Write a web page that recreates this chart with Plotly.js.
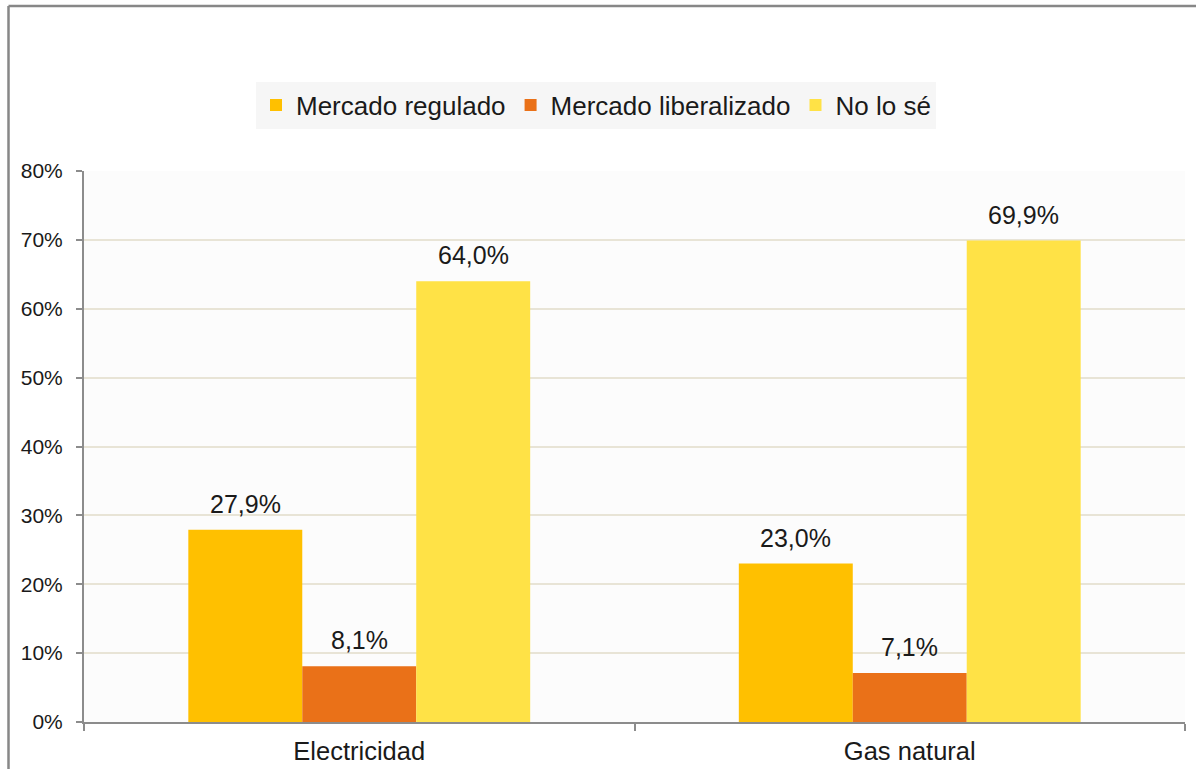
<!DOCTYPE html>
<html>
<head>
<meta charset="utf-8">
<script src="https://cdn.plot.ly/plotly-3.0.1.min.js"></script>
<style>html,body{margin:0;padding:0;background:#fff;}#chart{width:1196px;height:769px;}</style>
</head>
<body>
<div id="chart"></div>
<script>
const categories = ["Electricidad", "Gas natural"];
const seriesNames = ["Mercado regulado", "Mercado liberalizado", "No lo sé"];
const regulado = [27.9, 23.0];
const liberalizado = [8.1, 7.1];
const noLoSe = [64.0, 69.9];
const yTicks = [0, 10, 20, 30, 40, 50, 60, 70, 80];

const seriesValues = [regulado, liberalizado, noLoSe];
const colors = ["#FFC000", "#EA7118", "#FFE246"];
const FONT = "Liberation Sans, Arial, sans-serif";

const W = 1196, H = 769;
const margin = {l: 84, r: 11, t: 171, b: 47, pad: 0};
const bargap = 0.379;
const plotW = W - margin.l - margin.r;
const plotH = H - margin.t - margin.b;
const barW = plotW / categories.length * (1 - bargap) / seriesValues.length;

const traces = seriesValues.map((vals, i) => ({
  type: "bar",
  name: seriesNames[i],
  x: categories,
  y: vals,
  marker: {color: colors[i], line: {width: 0}},
  hoverinfo: "skip"
}));

const annotations = [];
seriesValues.forEach((vals, i) => {
  vals.forEach((v, j) => {
    annotations.push({
      xref: "x", yref: "y",
      x: categories[j], y: v,
      xshift: (i - (seriesValues.length - 1) / 2) * barW,
      yshift: 10,
      yanchor: "bottom", xanchor: "center",
      showarrow: false,
      text: v.toFixed(1).replace(".", ",") + "%",
      font: {family: FONT, size: 25, color: "#1a1a1a"}
    });
  });
});

const px2x = px => (px - margin.l) / plotW;
const px2y = py => (H - margin.b - py) / plotH;

const shapes = [
  {type: "line", xref: "paper", yref: "paper", x0: px2x(8.5), x1: px2x(8.5), y0: px2y(6), y1: px2y(800),
   line: {color: "#878787", width: 2.5}},
  {type: "line", xref: "paper", yref: "paper", x0: px2x(8.5), x1: px2x(1220), y0: px2y(6), y1: px2y(6),
   line: {color: "#878787", width: 2.5}}
];

const layout = {
  width: W, height: H,
  margin: margin,
  paper_bgcolor: "#ffffff",
  plot_bgcolor: "#fcfcfc",
  barmode: "group",
  bargap: bargap,
  bargroupgap: 0,
  separators: ",.",
  font: {family: FONT, color: "#1a1a1a"},
  showlegend: true,
  legend: {
    orientation: "h",
    x: px2x(596), xanchor: "center",
    y: px2y(105), yanchor: "middle",
    bgcolor: "#f6f6f6",
    font: {family: FONT, size: 26, color: "#1a1a1a"},
    itemwidth: 30,
    tracegroupgap: 0,
    traceorder: "normal"
  },
  xaxis: {
    type: "category",
    showline: true, linecolor: "#8c8c8c", linewidth: 2,
    ticks: "outside", tickson: "boundaries", ticklen: 7, tickcolor: "#8c8c8c", tickwidth: 2,
    ticklabelstandoff: 5,
    tickfont: {family: FONT, size: 25.5, color: "#1a1a1a"},
    showgrid: false, zeroline: false,
    fixedrange: true
  },
  yaxis: {
    range: [0, 80],
    tickvals: yTicks,
    ticktext: yTicks.map(v => v + "%"),
    showline: true, linecolor: "#8c8c8c", linewidth: 2,
    ticks: "outside", ticklen: 6, tickcolor: "#8c8c8c", tickwidth: 2,
    ticklabelstandoff: 9,
    tickfont: {family: FONT, size: 21, color: "#1a1a1a"},
    showgrid: true, gridcolor: "#e8e4d6", gridwidth: 2,
    zeroline: false,
    fixedrange: true
  },
  annotations: annotations,
  shapes: shapes
};

Plotly.newPlot("chart", traces, layout, {displayModeBar: false, staticPlot: true});
</script>
</body>
</html>
